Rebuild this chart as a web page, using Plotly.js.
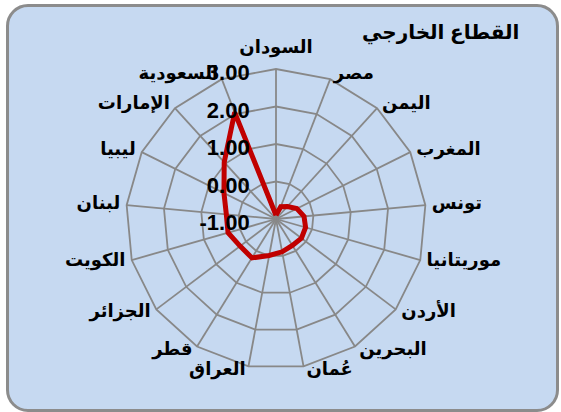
<!DOCTYPE html>
<html>
<head>
<meta charset="utf-8">
<script src="https://cdn.plot.ly/plotly-3.0.1.min.js"></script>
<style>
  html, body { margin: 0; padding: 0; background: #ffffff; }
  #frame { position: absolute; left: 6px; top: 4px; width: 547px; height: 402px;
           border: 3px solid #8c8c8c; border-radius: 22px; background: #C6D9F1; }
  #chart { position: absolute; left: 0; top: 0; width: 561px; height: 412px; }
</style>
</head>
<body>
<div id="frame"></div>
<div id="chart"></div>
<script>
const chartTitle = 'القطاع الخارجي';
const countries = ['السودان', 'مصر', 'اليمن', 'المغرب', 'تونس', 'موريتانيا', 'الأردن', 'البحرين', 'عُمان',
                   'العراق', 'قطر', 'الجزائر', 'الكويت', 'لبنان', 'ليبيا', 'الإمارات', 'السعودية'];
const values = [-0.9, -0.65, -0.55, -0.38, -0.25, -0.18, -0.15, -0.17, -0.11,
                -0.01, 0.22, 0.2, 0.33, 0.33, 0.55, 1.05, 2.05];
const radialTicks = [-1, 0, 1, 2, 3];
const radialTickText = radialTicks.map(function (v) { return v.toFixed(2); });

const thetaClosed = countries.concat([countries[0]]);
const rClosed = values.concat([values[0]]);

const W = 561, H = 412;
const cx = 276, cy = 219, R = 150;
const rMin = radialTicks[0], rMax = radialTicks[radialTicks.length - 1];
const unitPx = R / (rMax - rMin);
const rMax2 = rMax + 1;                  // wider overlay subplot used only to place the category labels
const R2 = unitPx * (rMax2 - rMin);
const labelR = rMax + 4.5 / unitPx;      // a little outside the outer polygon

const n = countries.length;
const labelPos = countries.map(function (_, i) {
  if (i === 0) return 'top center';
  return (i <= (n - 1) / 2) ? 'middle right' : 'middle left';
});
const labelPad = countries.map(function (_, i) { return i === 0 ? 10 : 1.6; });

const lineTrace = {
  type: 'scatterpolar',
  subplot: 'polar',
  mode: 'lines',
  theta: thetaClosed,
  r: rClosed,
  line: { color: '#C00000', width: 5 },
  hoverinfo: 'skip',
  showlegend: false
};

const labelTrace = {
  type: 'scatterpolar',
  subplot: 'polar2',
  mode: 'markers+text',
  theta: countries,
  r: countries.map(function () { return labelR; }),
  text: countries,
  textposition: labelPos,
  marker: { size: labelPad, opacity: 0, color: '#000000' },
  textfont: { family: 'Liberation Sans, DejaVu Sans, sans-serif', size: 18, color: '#000000', weight: 'bold' },
  cliponaxis: false,
  hoverinfo: 'skip',
  showlegend: false
};

const angularBase = {
  type: 'category',
  categoryorder: 'array',
  categoryarray: countries,
  rotation: 90,
  direction: 'clockwise'
};

const layout = {
  width: W, height: H,
  margin: { l: 0, r: 0, t: 0, b: 0 },
  paper_bgcolor: 'rgba(0,0,0,0)',
  plot_bgcolor: 'rgba(0,0,0,0)',
  showlegend: false,
  polar: {
    domain: { x: [(cx - R) / W, (cx + R) / W], y: [(H - cy - R) / H, (H - cy + R) / H] },
    bgcolor: 'rgba(0,0,0,0)',
    gridshape: 'linear',
    angularaxis: Object.assign({}, angularBase, {
      showline: true,
      linecolor: '#888888',
      linewidth: 1.8,
      gridcolor: '#888888',
      gridwidth: 1.8,
      ticks: '',
      showticklabels: false
    }),
    radialaxis: {
      range: [rMin, rMax],
      tickmode: 'array',
      tickvals: radialTicks,
      ticktext: radialTickText,
      angle: 90,
      side: 'counterclockwise',
      showline: false,
      gridcolor: '#888888',
      gridwidth: 1.8,
      ticks: 'outside',
      ticklen: 6,
      tickcolor: 'rgba(0,0,0,0)',
      tickfont: { family: 'Liberation Sans, Arial, sans-serif', size: 22, color: '#000000', weight: 'bold' },
      layer: 'above traces'
    }
  },
  polar2: {
    domain: { x: [(cx - R2) / W, (cx + R2) / W], y: [(H - cy - R2) / H, (H - cy + R2) / H] },
    bgcolor: 'rgba(0,0,0,0)',
    gridshape: 'linear',
    angularaxis: Object.assign({}, angularBase, {
      showline: false, showgrid: false, ticks: '', showticklabels: false
    }),
    radialaxis: {
      range: [rMin, rMax2],
      visible: false
    }
  },
  annotations: [{
    text: '<b>' + chartTitle + '</b>',
    xref: 'paper', yref: 'paper',
    x: 521 / W, y: (H - 33) / H,
    xanchor: 'right', yanchor: 'middle',
    showarrow: false,
    font: { family: 'Liberation Sans, DejaVu Sans, sans-serif', size: 20, color: '#000000' }
  }]
};

Plotly.newPlot('chart', [lineTrace, labelTrace], layout, { displayModeBar: false, staticPlot: true });
</script>
</body>
</html>
